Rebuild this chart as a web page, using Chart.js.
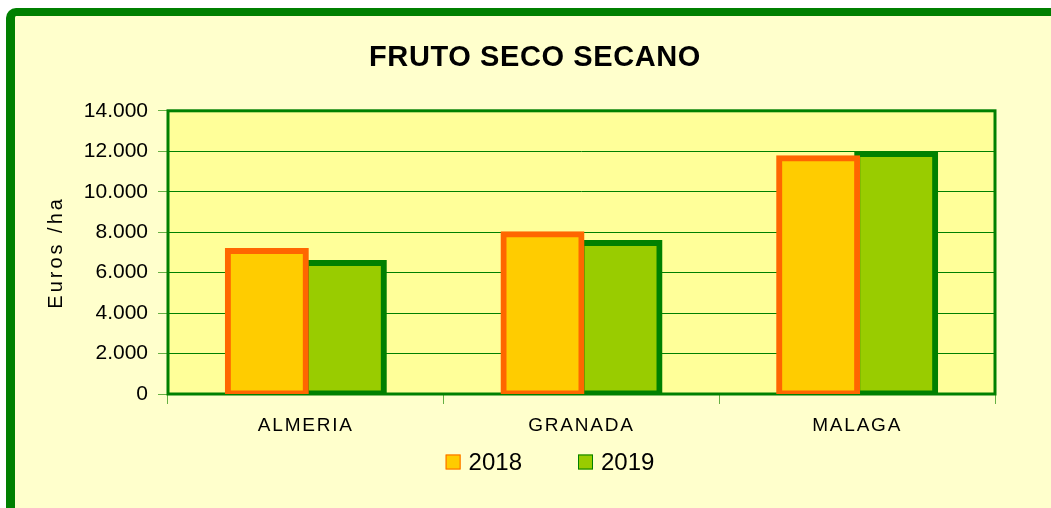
<!DOCTYPE html>
<html><head><meta charset="utf-8">
<script src="https://cdn.jsdelivr.net/npm/chart.js@4/dist/chart.umd.min.js"></script>
<style>
html,body{margin:0;padding:0;background:#fff;width:1051px;height:508px;overflow:hidden;}
#frame{position:absolute;left:6px;top:8px;width:1100px;height:600px;background:#FFFFCC;border-top:8px solid #008000;border-left:9px solid #008000;border-top-left-radius:10px;}
#c{position:absolute;left:0;top:0;}
</style></head><body>
<div id="frame"></div>
<canvas id="c" width="1051" height="508"></canvas>
<script>
const categories = ['ALMERIA', 'GRANADA', 'MALAGA'];
const seriesNames = ['2018', '2019'];
const values2018 = [7070, 7900, 11650];
const values2019 = [6480, 7470, 11870];
const yTickLabels = ['0', '2.000', '4.000', '6.000', '8.000', '10.000', '12.000', '14.000'];
const chartTitle = 'FRUTO SECO SECANO';
const yTitle = 'Euros /ha';

const FONT = "'Liberation Sans', Arial, sans-serif";

function withSpacing(obj, method, spacing) {
  if (!obj || obj['_sp_' + method]) return;
  const orig = obj[method];
  obj[method] = function (...args) {
    const ctx = this.ctx;
    ctx.save();
    try { ctx.letterSpacing = spacing; } catch (e) {}
    const r = orig.apply(this, args);
    ctx.restore();
    return r;
  };
  obj['_sp_' + method] = true;
}

const spacingPatch = {
  id: 'spacingPatch',
  beforeDraw(chart) {
    withSpacing(chart.scales.y, 'drawTitle', '3px');
    withSpacing(chart.scales.x, 'drawLabels', '1.8px');
    withSpacing(chart.titleBlock, 'draw', '0.6px');
  }
};

const plotFrame = {
  id: 'plotFrame',
  beforeDraw(chart) {
    const a = chart.chartArea, ctx = chart.ctx;
    ctx.save();
    ctx.fillStyle = '#FFFF99';
    ctx.fillRect(a.left, a.top, a.right - a.left, a.bottom - a.top);
    ctx.restore();
  },
  beforeDatasetsDraw(chart) {
    const a = chart.chartArea, ctx = chart.ctx;
    ctx.save();
    ctx.strokeStyle = '#008000';
    ctx.lineWidth = 3;
    ctx.strokeRect(a.left, a.top, a.right - a.left, a.bottom - a.top);
    ctx.restore();
  }
};

const customLegend = {
  id: 'customLegend',
  afterDraw(chart) {
    const ctx = chart.ctx;
    const ds = chart.data.datasets;
    ctx.save();
    ctx.font = '24px ' + FONT;
    ctx.textBaseline = 'middle';
    const box = 15, gap = 8, itemGap = 56, centerX = 550, centerY = 462;
    const widths = ds.map(d => box + gap + ctx.measureText(d.label).width);
    const total = widths.reduce((s, w) => s + w, 0) + itemGap * (ds.length - 1);
    let x = centerX - total / 2;
    ds.forEach((d, i) => {
      ctx.fillStyle = d.backgroundColor;
      ctx.fillRect(x, centerY - box / 2, box, box);
      ctx.strokeStyle = d.borderColor;
      ctx.lineWidth = 1;
      ctx.strokeRect(x + 0.5, centerY - box / 2 + 0.5, box - 1, box - 1);
      ctx.fillStyle = '#000';
      ctx.fillText(d.label, x + box + gap, centerY + 1);
      x += widths[i] + itemGap;
    });
    ctx.restore();
  }
};

new Chart(document.getElementById('c'), {
  type: 'bar',
  data: {
    labels: categories,
    datasets: [
      { label: seriesNames[0], data: values2018, backgroundColor: '#FFCC00', borderColor: '#FF6600',
        borderWidth: 6, borderSkipped: false, inflateAmount: 3 },
      { label: seriesNames[1], data: values2019, backgroundColor: '#99CC00', borderColor: '#008000',
        borderWidth: 6, borderSkipped: false, inflateAmount: 3 }
    ]
  },
  options: {
    responsive: false,
    animation: false,
    devicePixelRatio: 1,
    layout: { padding: { left: 75, right: 56, top: 0, bottom: 64 } },
    datasets: { bar: { barPercentage: 1, categoryPercentage: 0.566 } },
    plugins: {
      legend: { display: false },
      tooltip: { enabled: false },
      title: {
        display: true, text: chartTitle, color: '#000',
        font: { family: FONT, size: 29, weight: 'bold', lineHeight: 1.2 },
        padding: { top: 41, bottom: 35 }
      }
    },
    scales: {
      x: {
        border: { display: false },
        grid: { display: true, drawOnChartArea: false, drawTicks: true, tickLength: 10, tickColor: '#66B044', offset: true },
        ticks: { color: '#000', font: { family: FONT, size: 19 }, padding: 10 },
        afterFit(s) { s.height = 50; }
      },
      y: {
        min: 0, max: 14000,
        border: { display: false },
        grid: { color: '#008000', lineWidth: 1, drawTicks: true, tickLength: 10, tickColor: '#66B044' },
        ticks: { stepSize: 2000, color: '#000', font: { family: FONT, size: 21 }, padding: 10,
                 callback: (v, i) => yTickLabels[i] },
        title: { display: true, text: yTitle, color: '#000', font: { family: FONT, size: 20 },
                 padding: { top: -31, bottom: 0 } },
        afterFit(s) { s.width = 93; }
      }
    }
  },
  plugins: [spacingPatch, plotFrame, customLegend]
});
</script>
</body></html>
